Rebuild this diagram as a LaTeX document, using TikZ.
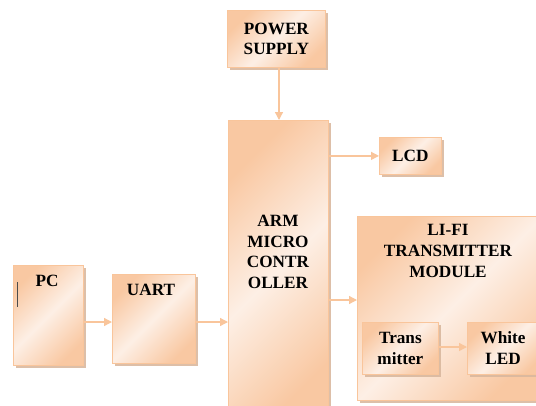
\documentclass[tikz,border=0pt]{standalone}
\usepackage{fontspec}
\setmainfont{Liberation Serif}
\usepackage{tikz}
\usetikzlibrary{arrows.meta,shadows,positioning}
\definecolor{peachline}{HTML}{F9C59B}
\definecolor{peachdark}{HTML}{F9C8A2}
\definecolor{peachlight}{HTML}{FDEFE5}
\definecolor{peachshadow}{HTML}{D9B89E}

\begin{document}
\begin{tikzpicture}[x=1pt, y=-1pt,
	block/.style={draw=peachline, line width=0.8pt, anchor=north west, inner sep=0pt,
		top color=peachdark, bottom color=peachdark, middle color=peachlight, shading angle=45,
		drop shadow={shadow xshift=2.2pt, shadow yshift=-2.2pt, fill=peachshadow, opacity=0.9}},
	lbl/.style={font=\bfseries\fontsize{17.2}{20.8}\selectfont, align=center, inner sep=0pt},
	link/.style={draw=peachline, line width=1.3pt, -{Triangle[length=8pt,width=8pt]}}]
\useasboundingbox (0,0) rectangle (536,405);

% blocks
\node[block, minimum width=98pt, minimum height=57pt] (pwr) at (227,10) {};
\node[block, minimum width=100pt, minimum height=300pt] (arm) at (228,120) {};
\node[block, minimum width=62pt, minimum height=37pt] (lcd) at (379,137) {};
\node[block, minimum width=70pt, minimum height=100pt] (pc) at (13,265) {};
\node[block, minimum width=83pt, minimum height=89pt] (uart) at (112,274) {};
\node[block, minimum width=186pt, minimum height=184pt] (lifi) at (357,216) {};
\node[block, minimum width=76pt, minimum height=52pt] (tx) at (362,322) {};
\node[block, minimum width=75pt, minimum height=52pt] (led) at (467,322) {};

% texts
\node[lbl] (pwrtext) at (pwr.center) {POWER\\SUPPLY};
\node[lbl] (armtext) at (278,252) {ARM\\MICRO\\CONTR\\OLLER};
\node[lbl] (lcdtext) at (lcd.center) {LCD};
\node[lbl, anchor=north] (pctext) at (47,275) {PC};
\node[lbl, anchor=north] (uarttext) at (151,284) {UART};
\node[lbl, anchor=north] (lifitext) at (448,224) {LI-FI\\TRANSMITTER\\MODULE};
\node[lbl] (txtext) at (tx.center) {Trans\\mitter};
\node[lbl] (ledtext) at (503,348) {White\\LED};
\draw[black!70, line width=1pt] (17,282) -- (17,307);

% connections
\coordinate (rowA) at (0,322);
\coordinate (rowB) at (0,300);
\coordinate (rowC) at (0,347);
\draw[link] (pwr.south -| 279,0) -- (arm.north -| 279,0);
\draw[link] (arm.east |- lcd) -- (lcd.west);
\draw[link] (pc.east |- rowA) -- (uart.west |- rowA);
\draw[link] (uart.east |- rowA) -- (arm.west |- rowA);
\draw[link] (arm.east |- rowB) -- (lifi.west |- rowB);
\draw[link] (tx.east |- rowC) -- (led.west |- rowC);
\end{tikzpicture}
\end{document}
